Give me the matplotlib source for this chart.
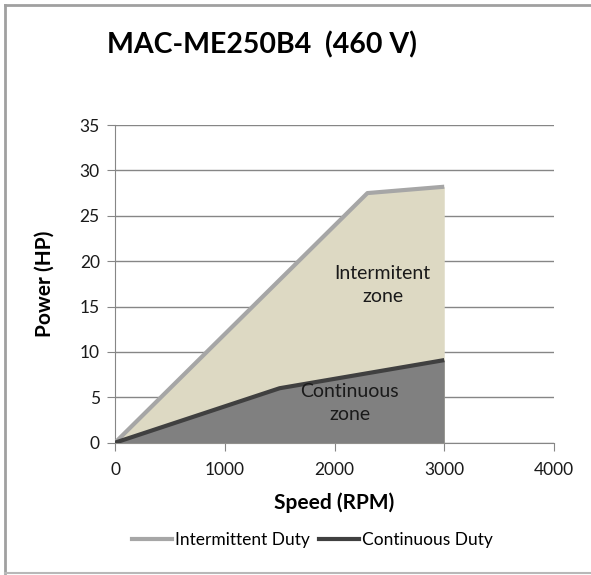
import numpy as np
import matplotlib.pyplot as plt
from matplotlib.lines import Line2D

# data
speed_int = [0, 2300, 3000]
power_int = [0, 27.5, 28.2]
speed_cont = [0, 1500, 3000]
power_cont = [0, 6.0, 9.1]

title = "MAC-ME250B4  (460 V)"
xticks = [0, 1000, 2000, 3000, 4000]
yticks = [0, 5, 10, 15, 20, 25, 30, 35]

plt.rcParams['font.family'] = ['Lato', 'DejaVu Sans']

fig = plt.figure(figsize=(5.91, 5.75), dpi=100)
ax = fig.add_axes([0.1946, 0.2301, 0.7428, 0.5525])

ax.fill_between(speed_int, power_int, 0, color='#ddd9c3', zorder=2, lw=0)
ax.fill_between(speed_cont, power_cont, 0, color='#808080', zorder=3, lw=0)
ax.plot(speed_int, power_int, color='#a6a6a6', lw=3, zorder=4, solid_capstyle='butt')
ax.plot(speed_cont, power_cont, color='#404040', lw=3, zorder=5, solid_capstyle='butt')

ax.text(2440, 17.35, "Intermitent\nzone", ha='center', va='center', fontsize=14,
        color='#1a1a1a', linespacing=1.4, zorder=6)
ax.text(2140, 4.4, "Continuous\nzone", ha='center', va='center', fontsize=14,
        color='#1a1a1a', linespacing=1.4, zorder=6)

ax.set_xlim(0, 4000)
ax.set_ylim(0, 35)
ax.set_xticks(xticks)
ax.set_yticks(yticks)
ax.grid(axis='y', color='#868686', lw=1, zorder=1)
for s in ['top', 'right']:
    ax.spines[s].set_visible(False)
for s in ['left', 'bottom']:
    ax.spines[s].set_color('#868686')
    ax.spines[s].set_zorder(1)
ax.tick_params(axis='both', direction='out', length=6, color='#868686',
               labelsize=12.5, labelcolor='#1a1a1a')
ax.tick_params(axis='x', pad=8)
ax.tick_params(axis='y', pad=5)

ax.set_xlabel("Speed (RPM)", fontsize=15, fontweight='bold')
ax.set_ylabel("Power (HP)", fontsize=15, fontweight='bold')
ax.xaxis.set_label_coords(0.5, -0.155)
ax.yaxis.set_label_coords(-0.137, 0.5)

fig.text(0.443, 0.922, title, ha='center', va='center', fontsize=20.5, fontweight='bold')

handles = [Line2D([], [], color='#a6a6a6', lw=3),
           Line2D([], [], color='#404040', lw=3)]
fig.legend(handles, ["Intermittent Duty", "Continuous Duty"], loc='center',
           bbox_to_anchor=(0.529, 0.061), ncol=2, frameon=False, fontsize=12.5,
           handlelength=2.3, handletextpad=0.2, columnspacing=0.5)

# chart frame
fig.add_artist(Line2D([0.008, 0.008], [0.004, 0.991], color='#a0a0a0', lw=2))
fig.add_artist(Line2D([0.008, 1.0], [0.991, 0.991], color='#a0a0a0', lw=2))
fig.add_artist(Line2D([0.008, 1.0], [0.004, 0.004], color='#b8b8b8', lw=1.5))

fig.savefig("out.png", dpi=100, facecolor='white')
